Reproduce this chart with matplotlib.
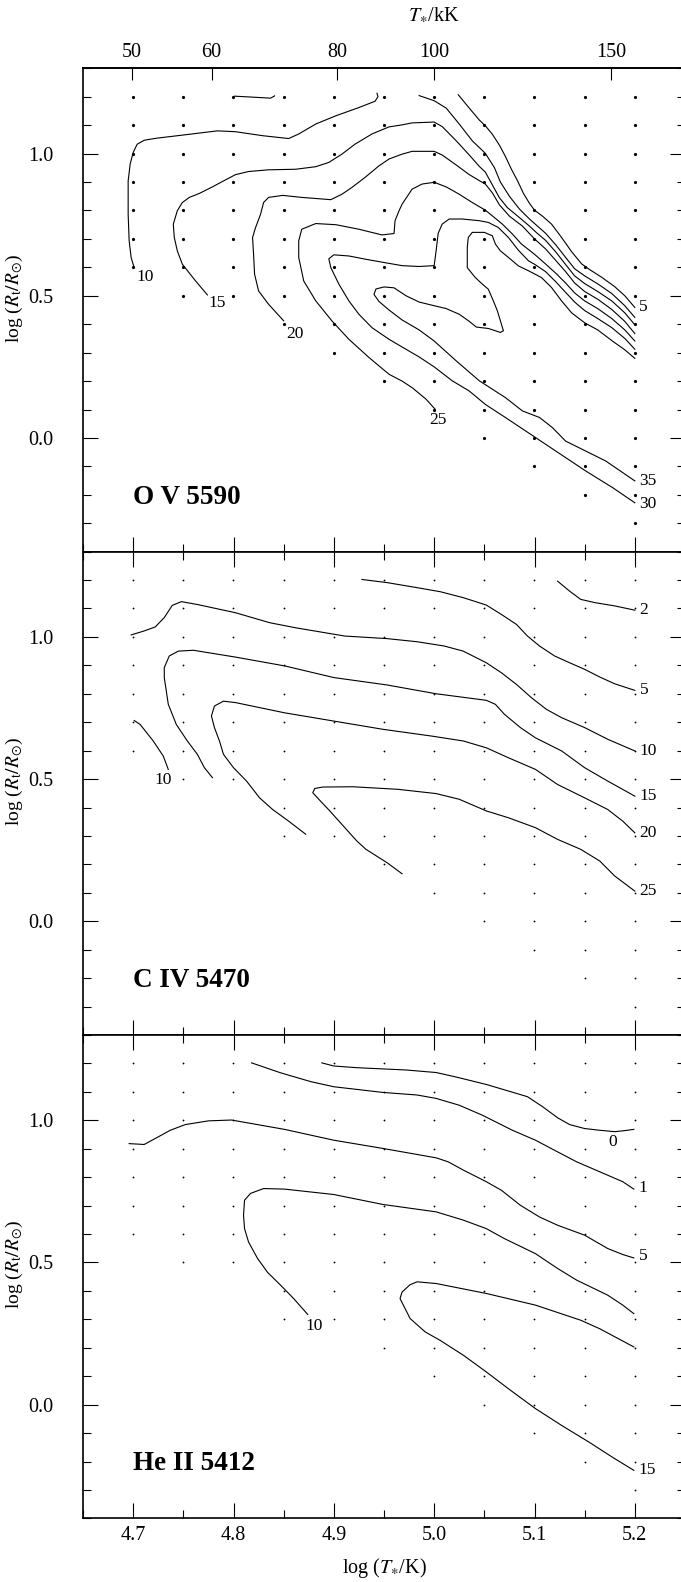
import numpy as np
import matplotlib.pyplot as plt
from matplotlib.ticker import MultipleLocator, FormatStrFormatter, NullLocator

plt.rcParams["font.family"] = ["Liberation Serif", "DejaVu Serif"]
plt.rcParams["mathtext.fontset"] = "stix"

# model grid: columns in log T*, lowest log R_t in each column (top row is 1.2)
grid_logT = [4.70, 4.75, 4.80, 4.85, 4.90, 4.95, 5.00, 5.05, 5.10, 5.15, 5.20]
ov_lowest = [0.6, 0.5, 0.5, 0.4, 0.3, 0.2, 0.1, 0.0, -0.1, -0.2, -0.3]
civ_lowest = [0.6, 0.5, 0.5, 0.3, 0.3, 0.2, 0.1, 0.0, -0.1, -0.2, -0.3]
heii_lowest = [0.6, 0.5, 0.5, 0.3, 0.3, 0.2, 0.1, 0.0, -0.1, -0.2, -0.3]
missing = {"civ": [(4.80, 0.4)], "heii": [(4.80, 0.4)], "ov": []}

top_T_kK = [50, 60, 80, 100, 150]

# ---- O V 5590 equivalent-width contours (log T*, log R_t) ----
ov_c10 = [(4.701, 0.599), (4.698, 0.634), (4.696, 0.693), (4.695, 0.787), (4.695, 0.904),
          (4.697, 0.963), (4.700, 1.004), (4.704, 1.033), (4.711, 1.047), (4.723, 1.054),
          (4.749, 1.065), (4.784, 1.080), (4.802, 1.077), (4.829, 1.063), (4.855, 1.053),
          (4.865, 1.069), (4.882, 1.104), (4.902, 1.133), (4.925, 1.162), (4.941, 1.184),
          (4.944, 1.200), (4.943, 1.212)]
ov_c10_top = [(4.801, 1.202), (4.822, 1.198), (4.837, 1.195), (4.841, 1.203)]
ov_c10_right = [(4.985, 1.204), (5.000, 1.186), (5.012, 1.160), (5.025, 1.104), (5.038, 1.045),
                (5.051, 1.001), (5.060, 0.951), (5.066, 0.900), (5.075, 0.850), (5.085, 0.805),
                (5.095, 0.770), (5.102, 0.748), (5.111, 0.720), (5.121, 0.680), (5.131, 0.635),
                (5.140, 0.595), (5.150, 0.570), (5.163, 0.542), (5.177, 0.508), (5.190, 0.465),
                (5.200, 0.424)]
ov_c5 = [(5.024, 1.207), (5.035, 1.160), (5.045, 1.118), (5.051, 1.098), (5.058, 1.068),
         (5.065, 1.030), (5.071, 0.990), (5.077, 0.945), (5.083, 0.905), (5.089, 0.860),
         (5.095, 0.825), (5.100, 0.801), (5.108, 0.780), (5.117, 0.752), (5.127, 0.705),
         (5.137, 0.655), (5.147, 0.612), (5.155, 0.592), (5.167, 0.565), (5.180, 0.532),
         (5.190, 0.500), (5.200, 0.459)]
ov_c15 = [(4.774, 0.503), (4.762, 0.553), (4.749, 0.611), (4.744, 0.658), (4.741, 0.705),
          (4.740, 0.752), (4.744, 0.799), (4.749, 0.828), (4.756, 0.846), (4.766, 0.860),
          (4.779, 0.883), (4.789, 0.902), (4.802, 0.926), (4.815, 0.937), (4.835, 0.943),
          (4.862, 0.945), (4.882, 0.954), (4.895, 0.969), (4.908, 0.998), (4.921, 1.033),
          (4.938, 1.069), (4.955, 1.094), (4.968, 1.101), (4.978, 1.108), (5.000, 1.111),
          (5.008, 1.095), (5.022, 1.045), (5.035, 0.995), (5.045, 0.955), (5.051, 0.935),
          (5.058, 0.890), (5.065, 0.845), (5.073, 0.810), (5.085, 0.775), (5.095, 0.745),
          (5.102, 0.722), (5.111, 0.695), (5.121, 0.655), (5.131, 0.610), (5.140, 0.570),
          (5.150, 0.543), (5.163, 0.515), (5.177, 0.482), (5.190, 0.440), (5.200, 0.398)]
ov_c20 = [(4.850, 0.412), (4.835, 0.470), (4.825, 0.517), (4.821, 0.576), (4.820, 0.646),
          (4.819, 0.705), (4.822, 0.740), (4.827, 0.787), (4.830, 0.828), (4.835, 0.846),
          (4.849, 0.853), (4.868, 0.846), (4.897, 0.838), (4.908, 0.857), (4.918, 0.881),
          (4.931, 0.916), (4.945, 0.957), (4.955, 0.981), (4.968, 0.998), (4.978, 1.008),
          (5.000, 1.008), (5.008, 0.995), (5.022, 0.960), (5.035, 0.926), (5.045, 0.905),
          (5.051, 0.893), (5.058, 0.862), (5.065, 0.820), (5.075, 0.780), (5.088, 0.745),
          (5.100, 0.700), (5.111, 0.665), (5.121, 0.625), (5.131, 0.585), (5.140, 0.545),
          (5.150, 0.515), (5.163, 0.488), (5.177, 0.452), (5.190, 0.410), (5.200, 0.367)]
ov_c25 = [(5.001, 0.101), (4.992, 0.136), (4.978, 0.177), (4.968, 0.200), (4.955, 0.224),
          (4.935, 0.283), (4.915, 0.347), (4.898, 0.412), (4.882, 0.482), (4.870, 0.552),
          (4.865, 0.635), (4.865, 0.693), (4.868, 0.734), (4.882, 0.754), (4.902, 0.750),
          (4.925, 0.734), (4.948, 0.714), (4.960, 0.719), (4.961, 0.764), (4.965, 0.799),
          (4.968, 0.822), (4.978, 0.875), (4.988, 0.893), (5.000, 0.899), (5.012, 0.883),
          (5.025, 0.857), (5.038, 0.828), (5.051, 0.801), (5.058, 0.781), (5.068, 0.752),
          (5.078, 0.717), (5.087, 0.682), (5.100, 0.646), (5.111, 0.612), (5.121, 0.580),
          (5.131, 0.545), (5.140, 0.510), (5.150, 0.482), (5.163, 0.455), (5.177, 0.420),
          (5.190, 0.380), (5.200, 0.341)]
ov_c30 = [(5.200, -0.228), (5.178, -0.175), (5.151, -0.116), (5.131, -0.069), (5.111, -0.022),
          (5.091, 0.025), (5.071, 0.072), (5.051, 0.118), (5.035, 0.165), (5.018, 0.201),
          (5.000, 0.250), (4.985, 0.285), (4.968, 0.320), (4.955, 0.347), (4.938, 0.388),
          (4.925, 0.435), (4.915, 0.482), (4.905, 0.541), (4.897, 0.599), (4.895, 0.630),
          (4.900, 0.644), (4.915, 0.640), (4.931, 0.629), (4.950, 0.617), (4.968, 0.606),
          (4.985, 0.603), (5.000, 0.606), (5.002, 0.660), (5.004, 0.720), (5.008, 0.752),
          (5.015, 0.770), (5.028, 0.770), (5.045, 0.764), (5.054, 0.758), (5.064, 0.740),
          (5.074, 0.705), (5.084, 0.660), (5.094, 0.623), (5.100, 0.611), (5.111, 0.585),
          (5.121, 0.550), (5.131, 0.512), (5.140, 0.478), (5.150, 0.448), (5.163, 0.420),
          (5.177, 0.388), (5.190, 0.350), (5.200, 0.312)]
ov_c35 = [(5.200, -0.151), (5.171, -0.081), (5.151, -0.046), (5.131, -0.011), (5.118, 0.036),
          (5.105, 0.072), (5.088, 0.095), (5.071, 0.142), (5.045, 0.201), (5.022, 0.271),
          (5.000, 0.341), (4.985, 0.380), (4.968, 0.415), (4.955, 0.450), (4.945, 0.480),
          (4.940, 0.505), (4.942, 0.524), (4.950, 0.531), (4.960, 0.528), (4.972, 0.500),
          (4.985, 0.478), (5.000, 0.465), (5.012, 0.455), (5.025, 0.435), (5.035, 0.410),
          (5.042, 0.390), (5.054, 0.385), (5.061, 0.377), (5.066, 0.371), (5.069, 0.377),
          (5.066, 0.412), (5.063, 0.447), (5.059, 0.482), (5.054, 0.523), (5.048, 0.541),
          (5.041, 0.564), (5.033, 0.599), (5.033, 0.670), (5.034, 0.705), (5.038, 0.723),
          (5.050, 0.723), (5.058, 0.711), (5.061, 0.682), (5.066, 0.658), (5.074, 0.635),
          (5.084, 0.605), (5.094, 0.588), (5.107, 0.564), (5.117, 0.529), (5.127, 0.482),
          (5.137, 0.440), (5.150, 0.405), (5.163, 0.380), (5.178, 0.340), (5.190, 0.310),
          (5.200, 0.280)]

# ---- C IV 5470 ----
civ_c2 = [(5.123, 1.196), (5.135, 1.161), (5.146, 1.132), (5.161, 1.120), (5.180, 1.109),
          (5.200, 1.094)]
civ_c5 = [(4.928, 1.202), (4.953, 1.191), (4.980, 1.175), (5.006, 1.159), (5.029, 1.138),
          (5.052, 1.112), (5.067, 1.079), (5.082, 1.044), (5.093, 1.003), (5.105, 0.968),
          (5.120, 0.933), (5.135, 0.909), (5.150, 0.886), (5.165, 0.859), (5.180, 0.835),
          (5.200, 0.812)]
civ_c10 = [(4.698, 1.007), (4.711, 1.021), (4.722, 1.035), (4.731, 1.068), (4.739, 1.111),
           (4.748, 1.124), (4.764, 1.114), (4.802, 1.085), (4.836, 1.050), (4.862, 1.032),
           (4.911, 1.003), (4.953, 0.994), (4.983, 0.983), (5.010, 0.968), (5.029, 0.950),
           (5.052, 0.909), (5.067, 0.874), (5.082, 0.833), (5.097, 0.786), (5.112, 0.745),
           (5.127, 0.716), (5.150, 0.681), (5.173, 0.640), (5.200, 0.599)]
civ_c10_left = [(4.701, 0.706), (4.707, 0.692), (4.720, 0.634), (4.730, 0.581), (4.735, 0.534)]
civ_c15 = [(4.779, 0.505), (4.771, 0.540), (4.764, 0.587), (4.754, 0.634), (4.743, 0.692),
           (4.735, 0.763), (4.731, 0.857), (4.731, 0.892), (4.736, 0.933), (4.745, 0.950),
           (4.760, 0.953), (4.802, 0.929), (4.851, 0.898), (4.900, 0.857), (4.953, 0.831),
           (5.002, 0.800), (5.052, 0.777), (5.061, 0.763), (5.070, 0.728), (5.086, 0.681),
           (5.101, 0.645), (5.127, 0.599), (5.150, 0.540), (5.173, 0.493), (5.200, 0.440)]
civ_c20 = [(4.872, 0.306), (4.855, 0.352), (4.839, 0.393), (4.826, 0.434), (4.813, 0.493),
           (4.800, 0.540), (4.790, 0.587), (4.786, 0.634), (4.781, 0.681), (4.778, 0.722),
           (4.781, 0.757), (4.790, 0.774), (4.802, 0.769), (4.851, 0.733), (4.900, 0.704),
           (4.949, 0.675), (4.998, 0.651), (5.029, 0.634), (5.052, 0.610), (5.074, 0.575),
           (5.101, 0.534), (5.123, 0.481), (5.150, 0.434), (5.173, 0.393), (5.188, 0.352),
           (5.200, 0.311)]
civ_c25 = [(4.968, 0.167), (4.953, 0.206), (4.932, 0.253), (4.923, 0.282), (4.911, 0.329),
           (4.896, 0.388), (4.885, 0.429), (4.879, 0.452), (4.881, 0.467), (4.889, 0.472),
           (4.919, 0.473), (4.964, 0.464), (5.002, 0.449), (5.025, 0.429), (5.052, 0.388),
           (5.074, 0.364), (5.101, 0.329), (5.123, 0.288), (5.146, 0.253), (5.165, 0.212),
           (5.180, 0.159), (5.200, 0.106)]

# ---- He II 5412 ----
heii_c0 = [(4.888, 1.202), (4.900, 1.191), (4.923, 1.185), (4.972, 1.177), (5.002, 1.168),
           (5.021, 1.153), (5.052, 1.126), (5.074, 1.103), (5.093, 1.083), (5.108, 1.048),
           (5.123, 1.009), (5.135, 0.985), (5.150, 0.971), (5.165, 0.965), (5.180, 0.960),
           (5.188, 0.963), (5.199, 0.968)]
heii_c1 = [(4.818, 1.202), (4.847, 1.167), (4.877, 1.136), (4.900, 1.118), (4.949, 1.098),
           (4.983, 1.089), (5.002, 1.077), (5.025, 1.053), (5.048, 1.018), (5.078, 0.965),
           (5.101, 0.930), (5.123, 0.889), (5.142, 0.854), (5.165, 0.819), (5.188, 0.784),
           (5.199, 0.758)]
heii_c5 = [(4.696, 0.918), (4.711, 0.915), (4.722, 0.936), (4.737, 0.965), (4.752, 0.985),
           (4.775, 0.998), (4.798, 1.001), (4.851, 0.968), (4.900, 0.930), (4.949, 0.901),
           (5.002, 0.868), (5.014, 0.854), (5.029, 0.825), (5.052, 0.784), (5.067, 0.754),
           (5.086, 0.701), (5.105, 0.660), (5.123, 0.631), (5.150, 0.596), (5.173, 0.549),
           (5.188, 0.528), (5.199, 0.516)]
heii_c10 = [(4.874, 0.317), (4.860, 0.373), (4.847, 0.420), (4.834, 0.465), (4.824, 0.514),
            (4.815, 0.572), (4.811, 0.619), (4.810, 0.666), (4.811, 0.719), (4.817, 0.743),
            (4.830, 0.760), (4.851, 0.758), (4.900, 0.739), (4.949, 0.704), (5.002, 0.678),
            (5.029, 0.649), (5.052, 0.619), (5.070, 0.584), (5.101, 0.531), (5.123, 0.479),
            (5.142, 0.438), (5.173, 0.385), (5.188, 0.350), (5.199, 0.320)]
heii_c15 = [(5.199, -0.231), (5.180, -0.190), (5.154, -0.131), (5.127, -0.073), (5.101, -0.014),
            (5.074, 0.056), (5.052, 0.115), (5.029, 0.174), (5.006, 0.226), (4.991, 0.256),
            (4.976, 0.303), (4.966, 0.373), (4.968, 0.396), (4.976, 0.422), (4.983, 0.432),
            (5.002, 0.426), (5.052, 0.391), (5.101, 0.350), (5.146, 0.297), (5.165, 0.267),
            (5.199, 0.203)]

#%% panel definitions: lines, labels (text, line, end index, offset in pt, ha)
panels = [
    dict(name="O V 5590", key="ov", lowest=ov_lowest, dot=2.3,
         lines=[ov_c10, ov_c10_top, ov_c10_right, ov_c5, ov_c15, ov_c20, ov_c25, ov_c30, ov_c35],
         labels=[("10", ov_c10, 0, (2, -6.5), "left"), ("15", ov_c15, 0, (0.7, -5.5), "left"),
                 ("20", ov_c20, 0, (2, -9.5), "left"), ("25", ov_c25, 0, (2, -7.5), "center"),
                 ("5", ov_c5, -1, (3, 0), "left"), ("35", ov_c35, 0, (3, 0), "left"),
                 ("30", ov_c30, 0, (3, -1), "left")]),
    dict(name="C IV 5470", key="civ", lowest=civ_lowest, dot=1.3,
         lines=[civ_c2, civ_c5, civ_c10, civ_c10_left, civ_c15, civ_c20, civ_c25],
         labels=[("2", civ_c2, -1, (3.5, 0), "left"), ("5", civ_c5, -1, (3.5, 0), "left"),
                 ("10", civ_c10, -1, (3.5, 0), "left"), ("15", civ_c15, -1, (3.5, 0), "left"),
                 ("20", civ_c20, -1, (3.5, 0), "left"), ("25", civ_c25, -1, (3.5, 0), "left"),
                 ("10", civ_c10_left, -1, (-3.5, -7.5), "center")]),
    dict(name="He II 5412", key="heii", lowest=heii_lowest, dot=1.3,
         lines=[heii_c0, heii_c1, heii_c5, heii_c10, heii_c15],
         labels=[("0", heii_c0, -1, (-15, -9), "center"), ("1", heii_c1, -1, (3.5, 1), "left"),
                 ("5", heii_c5, -1, (3.5, 1.5), "left"), ("10", heii_c10, 0, (4.5, -8), "center"),
                 ("15", heii_c15, 0, (3.5, 0), "left")]),
]

fig = plt.figure(figsize=(6.81, 15.82), dpi=100)
W, H = 681.0, 1582.0
left, width = 83 / W, 602 / W
ph = 483.4 / H
bottoms = [(H - 551.7) / H, (H - 1035.0) / H, (H - 1518.4) / H]

for i, p in enumerate(panels):
    ax = fig.add_axes([left, bottoms[i], width, ph])
    ax.set_xlim(4.65, 5.25)
    ax.set_ylim(-0.4, 1.3)

    # model grid dots
    gx, gy = [], []
    for x, ymin in zip(grid_logT, p["lowest"]):
        for y in np.round(np.arange(ymin, 1.2001, 0.1), 2):
            if (x, y) in missing[p["key"]]:
                continue
            gx.append(x)
            gy.append(y)
    ax.plot(gx, gy, "o", color="k", ms=p["dot"], mew=0, ls="none")

    for line in p["lines"]:
        arr = np.array(line)
        ax.plot(arr[:, 0], arr[:, 1], color="k", lw=0.8)

    for txt, line, idx, off, ha in p["labels"]:
        ax.annotate(txt, xy=line[idx], xytext=off, textcoords="offset points",
                    ha=ha, va="center", fontsize=12.5)

    ax.text(4.70, -0.231, p["name"], fontsize=19.5, fontweight="bold",
            ha="left", va="baseline")
    ax.text(-0.114, 0.525, r"log ($R_{\rm t}/R_{\odot}$)", transform=ax.transAxes,
            rotation=90, ha="center", va="center", fontsize=14)

    ax.xaxis.set_major_locator(MultipleLocator(0.1))
    ax.xaxis.set_minor_locator(MultipleLocator(0.05))
    ax.yaxis.set_major_locator(MultipleLocator(0.5))
    ax.yaxis.set_minor_locator(MultipleLocator(0.1))
    ax.xaxis.set_major_formatter(FormatStrFormatter("%.1f"))
    ax.yaxis.set_major_formatter(FormatStrFormatter("%.1f"))
    ax.tick_params(which="both", direction="in", left=True, right=True,
                   bottom=True, top=(i > 0), width=0.8, labelsize=14.5)
    ax.tick_params(which="major", length=10.8)
    ax.tick_params(which="minor", length=5.8)
    ax.tick_params(axis="y", pad=21.5)
    ax.tick_params(axis="x", pad=5.5, labelbottom=(i == 2))
    for s in ax.spines.values():
        s.set_linewidth(1.2)

    if i == 0:
        sec = ax.secondary_xaxis(
            "top",
            functions=(lambda x: 10 ** x / 1e3,
                       lambda t: np.log10(np.clip(t, 1e-6, None) * 1e3)))
        sec.set_xticks(top_T_kK)
        sec.xaxis.set_minor_locator(NullLocator())
        sec.tick_params(direction="in", length=8.6, width=0.8, pad=4.8, labelsize=14.5)
        sec.spines["top"].set_linewidth(1.2)

x_T100 = left + (5.0 - 4.65) / 0.6 * width
fig.text(x_T100, 1 - 20 / H, r"$T_{\ast}$/kK", ha="center", va="baseline", fontsize=14.5)
fig.text(left + 0.5 * width, 1 - 1573 / H, r"log ($T_{\ast}$/K)", ha="center",
         va="baseline", fontsize=14.5)

fig.savefig("out.png", dpi=100)
